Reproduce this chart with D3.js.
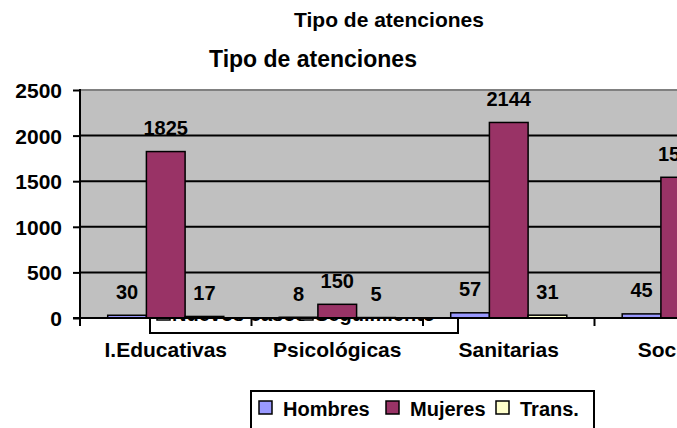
<!DOCTYPE html>
<html>
<head>
<meta charset="utf-8">
<script src="https://cdn.jsdelivr.net/npm/d3@7"></script>
<style>
  html, body { margin: 0; padding: 0; background: #fff; overflow: hidden; }
  text { font-family: "Liberation Sans", Arial, sans-serif; font-weight: bold; fill: #000; }
</style>
</head>
<body>
<div id="chart"></div>
<script>
const categories = ["I.Educativas", "Psicológicas", "Sanitarias", "Sociales"];
const seriesNames = ["Hombres", "Mujeres", "Trans."];
const hombres = [30, 8, 57, 45];
const mujeres = [1825, 150, 2144, 1543];
const trans = [17, 5, 31, 12];
const yTicks = [0, 500, 1000, 1500, 2000, 2500];
const hiddenLegend = ["Nuevos casos", "Seguimiento"];

const svgWidth = 677, svgHeight = 428;
const plot = { left: 80, top: 90, bottom: 318, step: 171.5 };

const color = d3.scaleOrdinal()
  .domain(seriesNames)
  .range(["#9999ff", "#993366", "#ffffcc"]);

const svg = d3.select("#chart").append("svg")
  .attr("width", svgWidth)
  .attr("height", svgHeight);

// titles
svg.append("text")
  .attr("x", 389).attr("y", 27)
  .attr("text-anchor", "middle")
  .style("font-size", "21px")
  .text("Tipo de atenciones");

svg.append("text")
  .attr("x", 313).attr("y", 67)
  .attr("text-anchor", "middle")
  .style("font-size", "23px")
  .text("Tipo de atenciones");

// legend left behind the plot area (mostly covered)
const back = svg.append("g");
back.append("rect")
  .attr("x", 150).attr("y", 290)
  .attr("width", 308).attr("height", 43)
  .attr("fill", "#fff").attr("stroke", "#000").attr("stroke-width", 2);
[[157, 172], [300, 315]].forEach((p, i) => {
  back.append("rect")
    .attr("x", p[0]).attr("y", 307).attr("width", 13).attr("height", 13)
    .attr("fill", "#fff").attr("stroke", "#000").attr("stroke-width", 1.5);
  back.append("text")
    .attr("x", p[1]).attr("y", 321)
    .style("font-size", "20px")
    .text(hiddenLegend[i]);
});

const x = d3.scaleBand()
  .domain(categories)
  .range([plot.left, plot.left + plot.step * categories.length])
  .padding(0);

const xSub = d3.scaleBand()
  .domain(seriesNames)
  .range([0, x.bandwidth()])
  .paddingInner(0)
  .paddingOuter(0.716);

const y = d3.scaleLinear()
  .domain([0, 2500])
  .range([plot.bottom, plot.top]);

// plot background
svg.append("rect")
  .attr("x", plot.left).attr("y", y(2500))
  .attr("width", svgWidth - plot.left).attr("height", y(0) - y(2500))
  .attr("fill", "#c0c0c0");

svg.append("line")
  .attr("x1", plot.left).attr("x2", svgWidth)
  .attr("y1", y(2500)).attr("y2", y(2500))
  .attr("stroke", "#808080").attr("stroke-width", 2);

svg.selectAll(".grid")
  .data(yTicks.filter(t => t > 0 && t < 2500))
  .enter().append("line")
  .attr("class", "grid")
  .attr("x1", plot.left).attr("x2", svgWidth)
  .attr("y1", d => y(d)).attr("y2", d => y(d))
  .attr("stroke", "#000").attr("stroke-width", 2);

// bars
const rows = categories.map((c, i) => ({
  cat: c,
  values: [
    { key: "Hombres", value: hombres[i] },
    { key: "Mujeres", value: mujeres[i] },
    { key: "Trans.", value: trans[i] }
  ]
}));

const groups = svg.selectAll(".cat")
  .data(rows)
  .enter().append("g")
  .attr("class", "cat")
  .attr("transform", d => `translate(${x(d.cat)},0)`);

groups.selectAll("rect")
  .data(d => d.values)
  .enter().append("rect")
  .attr("x", d => xSub(d.key))
  .attr("y", d => y(d.value))
  .attr("width", xSub.bandwidth())
  .attr("height", d => y(0) - y(d.value))
  .attr("fill", d => color(d.key))
  .attr("stroke", "#000")
  .attr("stroke-width", 1.5);

groups.selectAll(".val")
  .data(d => d.values)
  .enter().append("text")
  .attr("class", "val")
  .attr("x", d => xSub(d.key) + xSub.bandwidth() / 2)
  .attr("y", d => y(d.value) - 16.5)
  .attr("text-anchor", "middle")
  .style("font-size", "20px")
  .text(d => d.value);

// y axis
const yAxis = svg.append("g")
  .attr("transform", `translate(${plot.left},0)`)
  .call(d3.axisLeft(y).tickValues(yTicks).tickFormat(d3.format("d")).tickSize(7).tickPadding(11));
yAxis.select(".domain").remove();
yAxis.selectAll(".tick line").attr("stroke", "#000").attr("stroke-width", 2);
yAxis.selectAll("text")
  .style("font-size", "21px")
  .style("font-family", "'Liberation Sans', Arial, sans-serif")
  .style("font-weight", "bold")
  .attr("dy", "0.36em");

svg.append("line")
  .attr("x1", plot.left).attr("x2", plot.left)
  .attr("y1", y(2500) - 1).attr("y2", y(0))
  .attr("stroke", "#000").attr("stroke-width", 2);

// x axis
svg.append("line")
  .attr("x1", plot.left - 7).attr("x2", svgWidth)
  .attr("y1", y(0)).attr("y2", y(0))
  .attr("stroke", "#000").attr("stroke-width", 2);

svg.selectAll(".xtick")
  .data(categories)
  .enter().append("line")
  .attr("class", "xtick")
  .attr("x1", d => x(d)).attr("x2", d => x(d))
  .attr("y1", y(0)).attr("y2", y(0) + 8)
  .attr("stroke", "#000").attr("stroke-width", 2);

const xAxis = svg.append("g")
  .attr("transform", `translate(0,${y(0)})`)
  .call(d3.axisBottom(x).tickSize(0).tickPadding(24));
xAxis.select(".domain").remove();
xAxis.selectAll("text")
  .style("font-size", "21px")
  .style("font-family", "'Liberation Sans', Arial, sans-serif")
  .style("font-weight", "bold");

// front legend
const legend = svg.append("g");
legend.append("rect")
  .attr("x", 251).attr("y", 391)
  .attr("width", 343).attr("height", 45)
  .attr("fill", "#fff").attr("stroke", "#000").attr("stroke-width", 2);
const legendX = [259, 386, 496];
seriesNames.forEach((s, i) => {
  legend.append("rect")
    .attr("x", legendX[i]).attr("y", 401)
    .attr("width", 13).attr("height", 13)
    .attr("fill", color(s)).attr("stroke", "#000").attr("stroke-width", 1.5);
  legend.append("text")
    .attr("x", legendX[i] + 24).attr("y", 416)
    .style("font-size", "20px")
    .text(s);
});
</script>
</body>
</html>
